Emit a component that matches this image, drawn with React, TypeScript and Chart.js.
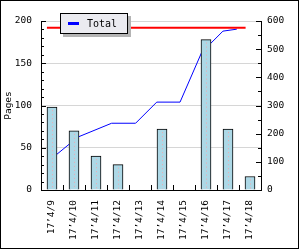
import React, { useEffect, useRef } from "react";
import { Chart, registerables } from "chart.js";
Chart.register(...registerables);

const categories = ["17’4/9", "17’4/10", "17’4/11", "17’4/12", "17’4/13", "17’4/14", "17’4/15", "17’4/16", "17’4/17", "17’4/18"];
const pages = [98, 70, 40, 30, 0, 72, 0, 178, 72, 16];
// cumulative total line (x in category-bin units, y on right axis)
const totalX = [0.27, 1.68, 3.21, 4.3, 5.26, 6.32, 7.3, 8.27, 8.9];
const totalY = [98, 188, 237, 237, 312, 312, 488, 564, 571];
const grandTotalX = [0.27, 9.3];
const grandTotal = 576;
const leftMax = 200;
const leftStep = 50;
const leftMinor = 10;
const rightMax = 600;
const rightStep = 100;
const rightMinor = 50;

const FONT = { family: "'DejaVu Sans Mono', monospace", size: 9.5 };

const axisTicks = {
  id: "axisTicks",
  afterDraw(chart: any) {
    const { ctx, chartArea: a, scales } = chart;
    ctx.save();
    ctx.strokeStyle = "#000";
    ctx.lineWidth = 1;
    ctx.beginPath();
    const y = scales.y;
    for (let v = 0; v <= leftMax; v += leftMinor) {
      const py = Math.round(y.getPixelForValue(v)) + 0.5;
      const len = v % leftStep === 0 ? 5 : 3;
      ctx.moveTo(a.left, py);
      ctx.lineTo(a.left + len, py);
    }
    const y1 = scales.y1;
    for (let v = 0; v <= rightMax; v += rightMinor) {
      const py = Math.round(y1.getPixelForValue(v)) + 0.5;
      const len = v % rightStep === 0 ? 5 : 3;
      ctx.moveTo(a.right, py);
      ctx.lineTo(a.right - len, py);
    }
    const x = scales.x;
    for (let i = 1; i < categories.length; i++) {
      const px = Math.round(x.getPixelForValue(i)) + 0.5;
      ctx.moveTo(px, a.bottom);
      ctx.lineTo(px, a.bottom - 5);
    }
    ctx.stroke();
    ctx.restore();
  },
};

const barDots = {
  id: "barDots",
  afterDatasetsDraw(chart: any) {
    const meta = chart.getDatasetMeta(0);
    const { ctx } = chart;
    ctx.save();
    ctx.strokeStyle = "#f0a8b0";
    ctx.lineWidth = 1;
    ctx.setLineDash([1, 3]);
    meta.data.forEach((el: any) => {
      if (el.base - el.y < 4) return;
      const px = Math.round(el.x) + 0.5;
      ctx.beginPath();
      ctx.moveTo(px, el.y + 3);
      ctx.lineTo(px, el.base - 1);
      ctx.stroke();
    });
    ctx.restore();
  },
};

export default function App() {
  const ref = useRef<HTMLCanvasElement>(null);
  useEffect(() => {
    document.body.style.margin = "0";
    const chart = new Chart(ref.current!, {
      type: "bar",
      data: {
        datasets: [
          {
            type: "bar",
            label: "Pages",
            data: pages.map((v, i) => ({ x: i + 0.5, y: v })),
            backgroundColor: "#add8e6",
            borderColor: "#000",
            borderWidth: 1,
            barThickness: 10,
            yAxisID: "y",
            order: 1,
          } as any,
          {
            type: "line",
            label: "Total",
            data: totalX.map((x, i) => ({ x, y: totalY[i] })),
            borderColor: "#0000ff",
            borderWidth: 1,
            pointRadius: 0,
            tension: 0,
            yAxisID: "y1",
            order: 2,
          } as any,
          {
            type: "line",
            label: "Grand total",
            data: grandTotalX.map((x) => ({ x, y: grandTotal })),
            borderColor: "#ff0000",
            borderWidth: 2,
            pointRadius: 0,
            yAxisID: "y1",
            order: 0,
          } as any,
        ],
      },
      options: {
        responsive: false,
        animation: false,
        devicePixelRatio: 1,
        layout: { padding: { top: 20, left: 0, right: 0, bottom: 0 }, autoPadding: false },
        plugins: { legend: { display: false }, tooltip: { enabled: false } },
        scales: {
          x: {
            type: "linear",
            min: 0,
            max: categories.length,
            offset: false,
            afterBuildTicks: (s: any) => {
              s.ticks = categories.map((_, i) => ({ value: i + 0.5 }));
            },
            grid: { display: false, drawTicks: false },
            border: { display: true, color: "#000" },
            ticks: {
              minRotation: 90,
              maxRotation: 90,
              autoSkip: false,
              padding: 10,
              color: "#000",
              font: FONT,
              callback: (_v: any, i: number) => categories[i],
            },
            afterFit: (s: any) => {
              s.height = 58;
              s.paddingLeft = 0;
              s.paddingRight = 0;
            },
          },
          y: {
            position: "left",
            min: 0,
            max: leftMax,
            ticks: { stepSize: leftStep, padding: 9, color: "#000", font: FONT },
            grid: { color: "#d6d6d6", drawTicks: false },
            border: { display: true, color: "#000" },
            title: { display: true, text: "Pages", color: "#000", font: FONT, padding: { top: 2, bottom: 0 } },
            afterFit: (s: any) => { s.width = 40; s.paddingTop = 0; s.paddingBottom = 0; },
          },
          y1: {
            position: "right",
            min: 0,
            max: rightMax,
            ticks: { stepSize: rightStep, padding: 6, color: "#000", font: FONT },
            grid: { drawOnChartArea: false, drawTicks: false },
            border: { display: true, color: "#000" },
            afterFit: (s: any) => { s.width = 37; s.paddingTop = 0; s.paddingBottom = 0; },
          },
        } as any,
      },
      plugins: [axisTicks, barDots],
    });
    return () => chart.destroy();
  }, []);

  return (
    <div style={{ position: "fixed", left: 0, top: 0, width: 299, height: 249, background: "#fff" }}>
      <div style={{ position: "absolute", inset: 0, border: "1px solid #000", boxSizing: "border-box" }} />
      <canvas ref={ref} width={297} height={247} style={{ position: "absolute", left: 1, top: 1 }} />
      <div
        style={{
          position: "absolute",
          left: 60,
          top: 13,
          width: 68,
          height: 21,
          boxSizing: "border-box",
          border: "1px solid #000",
          background: "#ebebf0",
          boxShadow: "3px 3px 0 #b4b4b4",
        }}
      >
        <div style={{ position: "absolute", left: 7, top: 8, width: 11, height: 3, background: "#0000ff" }} />
        <div
          style={{
            position: "absolute",
            left: 26,
            top: 0,
            lineHeight: "19px",
            fontFamily: "'DejaVu Sans Mono', monospace",
            fontSize: 10,
            color: "#000",
          }}
        >
          Total
        </div>
      </div>
    </div>
  );
}
